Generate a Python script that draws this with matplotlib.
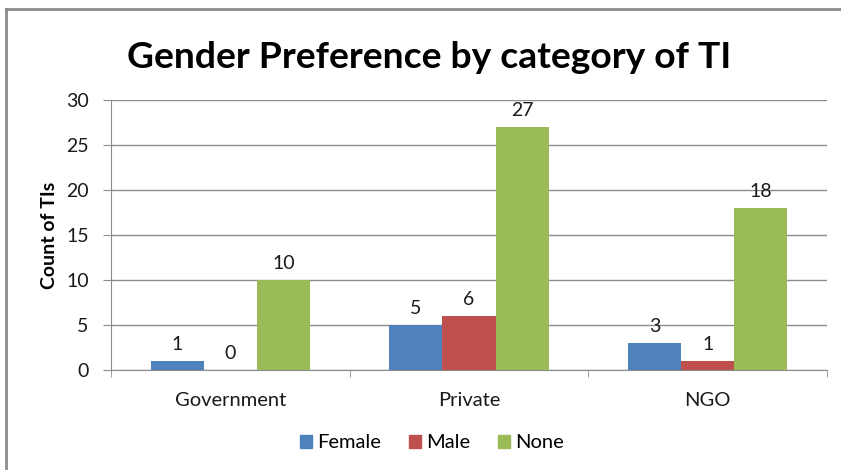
import matplotlib
matplotlib.use("Agg")
import matplotlib.pyplot as plt
from matplotlib.lines import Line2D
import numpy as np

categories = ["Government", "Private", "NGO"]
series_names = ["Female", "Male", "None"]
female = [1, 5, 3]
male = [0, 6, 1]
none_vals = [10, 27, 18]
colors = ["#4F81BD", "#C0504D", "#9BBB59"]
yticks = [0, 5, 10, 15, 20, 25, 30]

plt.rcParams['font.family'] = ['Lato', 'DejaVu Sans']

W, H = 841, 470
fig = plt.figure(figsize=(W/100, H/100), dpi=100)
ax = fig.add_axes([111/W, 1-370/H, (827-111)/W, (370-100)/H])

x = np.arange(len(categories))
bw = 1/4.5
for i, (vals, name, c) in enumerate(zip([female, male, none_vals], series_names, colors)):
    pos = x + (i-1)*bw
    ax.bar(pos, vals, width=bw, color=c, label=name, zorder=3)
    for p, v in zip(pos, vals):
        ax.annotate(str(v), (p, v), xytext=(0, 6), textcoords="offset points",
                    ha="center", va="bottom", fontsize=14, color="#1a1a1a")

ax.set_xlim(-0.5, len(categories)-0.5)
ax.set_ylim(0, 30)
ax.set_yticks(yticks)
ax.set_yticklabels([str(t) for t in yticks], fontsize=14, color="#1a1a1a")
ax.yaxis.grid(True, color="#8c8c8c", linewidth=1, zorder=0)
ax.set_axisbelow(True)
ax.set_xticks(x)
ax.set_xticklabels(categories, fontsize=14.5, color="#1a1a1a")
ax.tick_params(axis="x", length=0, pad=16)
ax.tick_params(axis="y", length=6, color="#8c8c8c", pad=10)
ax.set_xticks(np.arange(len(categories)+1)-0.5, minor=True)
ax.tick_params(axis="x", which="minor", length=5, color="#8c8c8c")
for s in ["top", "right"]:
    ax.spines[s].set_visible(False)
for s in ["left", "bottom"]:
    ax.spines[s].set_color("#8c8c8c")
ax.set_ylabel("Count of TIs", fontsize=14, fontweight="bold", labelpad=6)

fig.text(429/W, 1-68/H, "Gender Preference by category of TI", ha="center", va="baseline",
         fontsize=26.8, fontweight="bold", color="black")

handles = [plt.Rectangle((0, 0), 1, 1, color=c) for c in colors]
fig.legend(handles, series_names, loc="center", bbox_to_anchor=(432/W, 1-443/H), ncol=3,
           frameon=False, fontsize=14.5, handlelength=0.6, handleheight=0.6,
           handletextpad=0.25, columnspacing=1.4)

# chart border (left and top)
fig.add_artist(Line2D([6/W, 6/W], [0, 1-9/H], color="#8c8c8c", linewidth=2, transform=fig.transFigure))
fig.add_artist(Line2D([6/W, 1], [1-9/H, 1-9/H], color="#8c8c8c", linewidth=2, transform=fig.transFigure))

fig.savefig("out.png", dpi=100)
